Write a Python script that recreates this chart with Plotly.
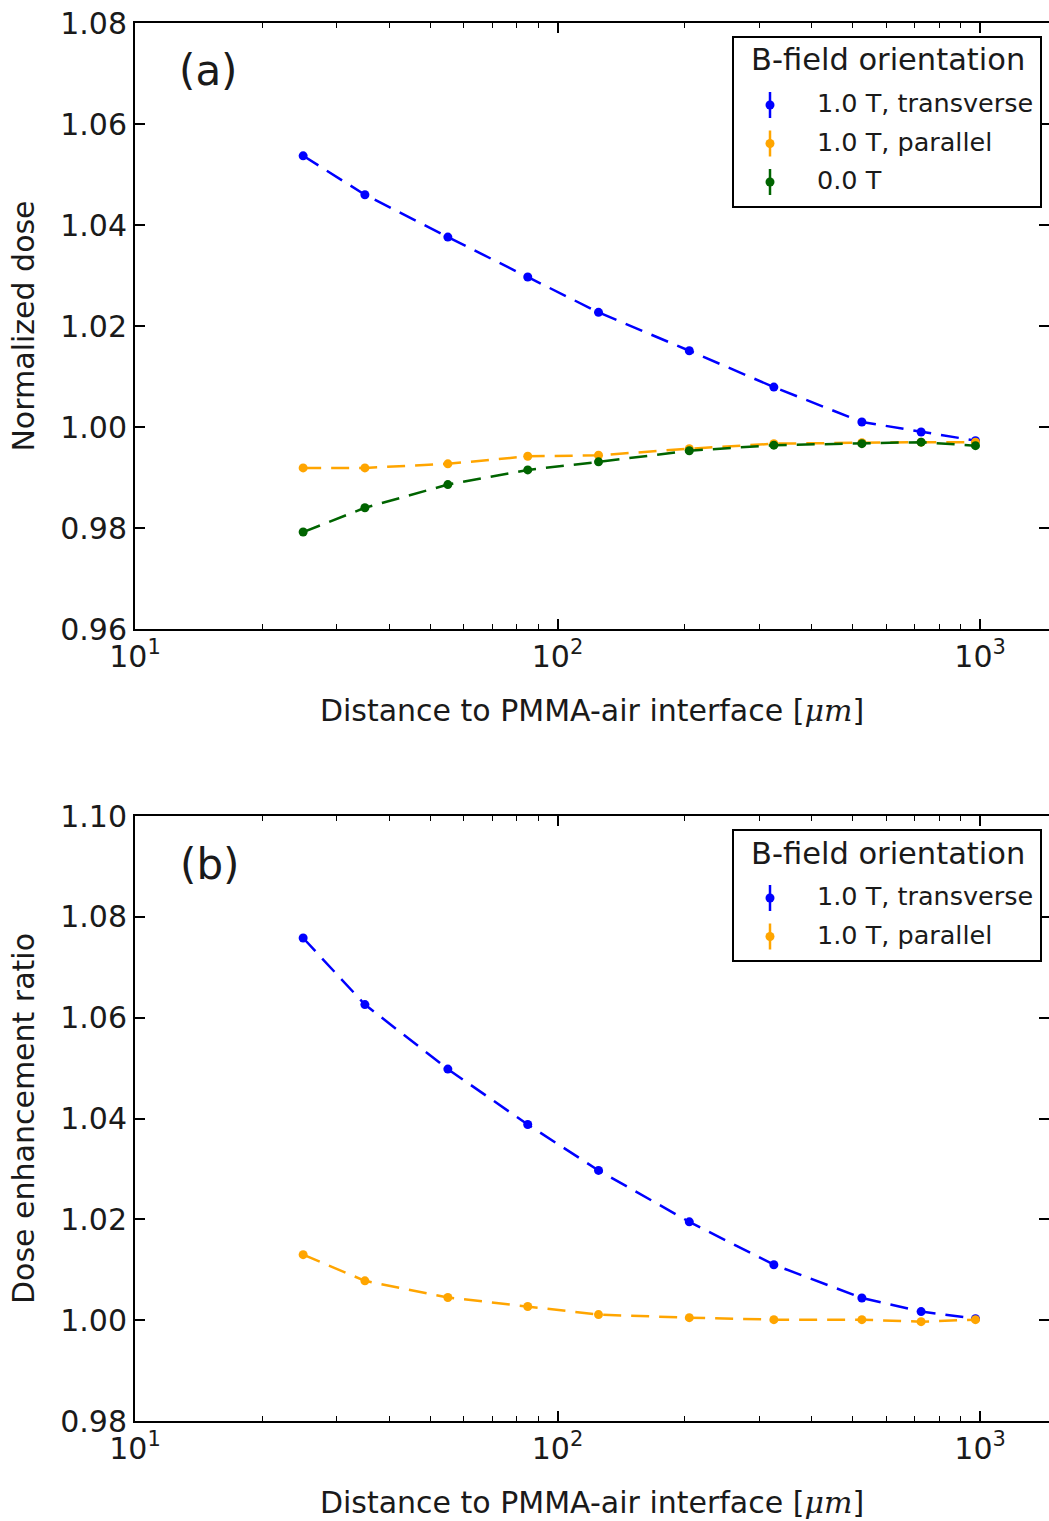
import plotly.graph_objects as go

# ---------------- data ----------------
distance_um = [25, 35, 55, 85, 125, 205, 325, 525, 725, 975]

# (a) normalized dose
dose_transverse = [1.0537, 1.0460, 1.0376, 1.0297, 1.0227, 1.0151, 1.0079, 1.0010, 0.9990, 0.9973]
dose_parallel = [0.9919, 0.9919, 0.9927, 0.9942, 0.9944, 0.9957, 0.9967, 0.9969, 0.9970, 0.9970]
dose_zero = [0.9792, 0.9840, 0.9886, 0.9915, 0.9931, 0.9953, 0.9964, 0.9967, 0.9970, 0.9963]

# (b) dose enhancement ratio
ratio_transverse = [1.0758, 1.0626, 1.0498, 1.0388, 1.0297, 1.0195, 1.0110, 1.0044, 1.0017, 1.0003]
ratio_parallel = [1.0130, 1.0078, 1.0045, 1.0027, 1.0011, 1.0005, 1.0001, 1.0001, 0.9997, 1.0001]

series_names = ["1.0 T, transverse", "1.0 T, parallel", "0.0 T"]
series_colors = ["#0000ff", "#ffa500", "#006400"]
legend_title = "B-field orientation"
panel_labels = ["(a)", "(b)"]
y_titles = ["Normalized dose", "Dose enhancement ratio"]
x_title = "Distance to PMMA-air interface [<span style='font-family:DejaVu Serif'><i>μm</i></span>]"
x_tickvals = [10, 100, 1000]
x_ticktext = ["10<sup>1</sup>", "10<sup>2</sup>", "10<sup>3</sup>"]
x_minor = [20, 30, 40, 50, 60, 70, 80, 90, 200, 300, 400, 500, 600, 700, 800, 900]
y_ticks_a = [0.96, 0.98, 1.00, 1.02, 1.04, 1.06, 1.08]
y_ticks_b = [0.98, 1.00, 1.02, 1.04, 1.06, 1.08, 1.10]

# ---------------- layout helpers ----------------
W, H = 1049, 1521
FONT = "DejaVu Sans"


def px(x):
    return x / W


def py(y):
    return 1 - y / H


fig = go.Figure()

panels = [
    dict(xa="x", ya="y", yr="y3", series=[dose_transverse, dose_parallel, dose_zero], yrng=[0.96, 1.08], yt=y_ticks_a),
    dict(xa="x2", ya="y2", yr="y4", series=[ratio_transverse, ratio_parallel], yrng=[0.98, 1.10], yt=y_ticks_b),
]

for p in panels:
    for vals, name, col in zip(p["series"], series_names, series_colors):
        fig.add_trace(go.Scatter(
            x=distance_um, y=vals, name=name, mode="lines+markers",
            xaxis=p["xa"], yaxis=p["ya"], showlegend=False,
            line=dict(color=col, width=2.5, dash="18px,10px"),
            marker=dict(color=col, size=9),
        ))
    # invisible helper trace for the mirrored right-hand tick axis
    fig.add_trace(go.Scatter(
        x=distance_um, y=p["series"][0], xaxis=p["xa"], yaxis=p["yr"],
        mode="markers", marker=dict(opacity=0), showlegend=False, hoverinfo="skip",
    ))

x_domain = [px(135), 1.0]
y_domains = [[py(629), py(23)], [py(1421), py(816)]]

common_x = dict(
    type="log", range=[1, 3.163], domain=x_domain,
    tickvals=x_tickvals, ticktext=x_ticktext,
    ticks="inside", ticklen=10, tickwidth=1.5, tickcolor="black",
    showline=True, linewidth=2, linecolor="black", mirror="ticks",
    showgrid=False, zeroline=False, automargin=False,
    tickfont=dict(family=FONT, size=30, color="#1a1a1a"),
    minor=dict(tickvals=x_minor, ticks="inside", ticklen=5, tickwidth=1.2, tickcolor="black", showgrid=False),
    title=dict(text=x_title, font=dict(family=FONT, size=30, color="#1a1a1a"), standoff=27),
)

layout = dict(
    width=W, height=H, margin=dict(l=0, r=0, t=0, b=0),
    paper_bgcolor="white", plot_bgcolor="white", showlegend=False,
    font=dict(family=FONT, size=30, color="#1a1a1a"),
)

for i, p in enumerate(panels):
    xkey = "xaxis" if i == 0 else "xaxis2"
    ykey = "yaxis" if i == 0 else "yaxis2"
    rkey = "yaxis3" if i == 0 else "yaxis4"
    xa = dict(common_x)
    xa["anchor"] = p["ya"]
    layout[xkey] = xa
    layout[ykey] = dict(
        range=p["yrng"], domain=y_domains[i], anchor=p["xa"],
        tickvals=p["yt"], tickformat=".2f",
        ticks="inside", ticklen=10, tickwidth=1.5, tickcolor="black",
        showline=True, linewidth=2, linecolor="black",
        showgrid=False, zeroline=False, automargin=False,
        tickfont=dict(family=FONT, size=30, color="#1a1a1a"),
        title=dict(text=y_titles[i], font=dict(family=FONT, size=30, color="#1a1a1a"), standoff=17),
    )
    layout[rkey] = dict(
        range=p["yrng"], overlaying=p["ya"], anchor=p["xa"], side="right",
        tickvals=p["yt"], ticks="inside", ticklen=10, tickwidth=1.5, tickcolor="black",
        showline=False, showticklabels=False, showgrid=False, zeroline=False,
    )

fig.update_layout(**layout)

# ---------------- panel labels ----------------
for lab, (cx, cy) in zip(panel_labels, [(208, 71), (209, 864)]):
    fig.add_annotation(x=px(cx), y=py(cy), xref="paper", yref="paper", text=lab,
                       showarrow=False, xanchor="center", yanchor="middle",
                       font=dict(family=FONT, size=42, color="#1a1a1a"))

# ---------------- manual legends (errorbar-style glyphs) ----------------
legend_specs = [
    dict(box=(733, 37, 1041, 207), title_y=60, items_y=[105, 143.5, 182], n=3),
    dict(box=(733, 830, 1041, 961), title_y=853, items_y=[898, 936.5], n=2),
]
for spec in legend_specs:
    x0, y0, x1, y1 = spec["box"]
    fig.add_shape(type="rect", xref="paper", yref="paper",
                  x0=px(x0), y0=py(y1), x1=px(x1), y1=py(y0),
                  line=dict(color="black", width=2), fillcolor="white", layer="above")
    fig.add_annotation(x=px(888), y=py(spec["title_y"]), xref="paper", yref="paper",
                       text=legend_title, showarrow=False, xanchor="center", yanchor="middle",
                       font=dict(family=FONT, size=30.5, color="#1a1a1a"))
    for k in range(spec["n"]):
        iy = spec["items_y"][k]
        col = series_colors[k]
        fig.add_shape(type="line", xref="paper", yref="paper",
                      x0=px(770), x1=px(770), y0=py(iy - 13), y1=py(iy + 13),
                      line=dict(color=col, width=2.5), layer="above")
        fig.add_shape(type="circle", xref="paper", yref="paper",
                      x0=px(765.5), x1=px(774.5), y0=py(iy + 4.5), y1=py(iy - 4.5),
                      line=dict(color=col, width=0), fillcolor=col, layer="above")
        fig.add_annotation(x=px(815), y=py(iy - 2), xref="paper", yref="paper",
                           text=series_names[k], showarrow=False, xanchor="left", yanchor="middle",
                           font=dict(family=FONT, size=25.5, color="#1a1a1a"))

fig.write_html("out.html")
